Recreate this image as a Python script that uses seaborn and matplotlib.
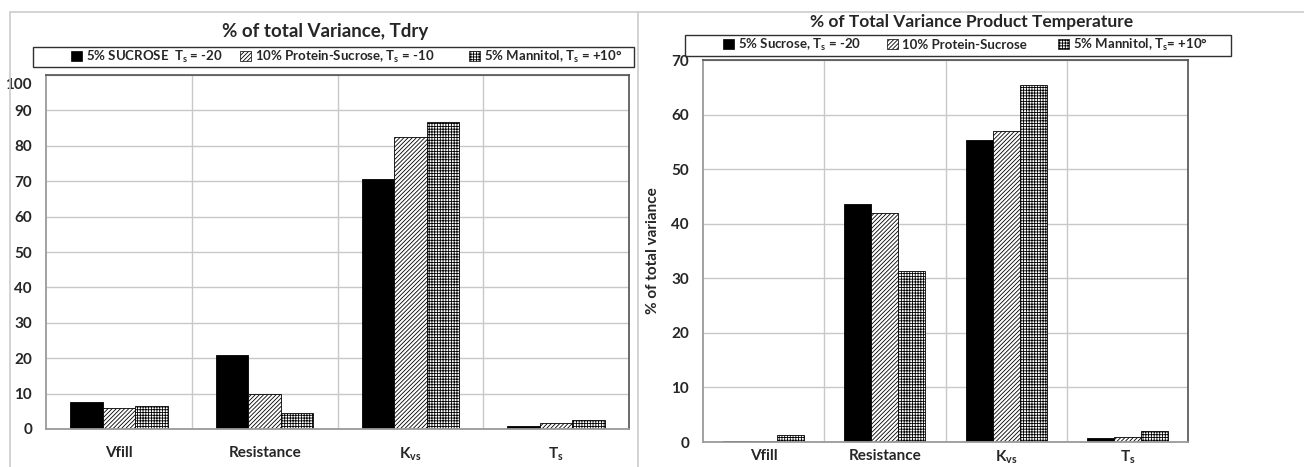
import numpy as np
import pandas as pd
import matplotlib
matplotlib.use('Agg')
import matplotlib.pyplot as plt
import matplotlib.patches as mpatches
from matplotlib.lines import Line2D
from matplotlib.transforms import ScaledTranslation
import seaborn as sns

# ── Data ──────────────────────────────────────────────────────────────────
categories = ['Vfill', 'Resistance', 'K$_{vs}$', 'T$_s$']

tdry_sucrose = [7.5, 21.0, 70.7, 0.8]
tdry_protein = [5.8, 9.8, 82.6, 1.8]
tdry_mannitol = [6.4, 4.6, 86.7, 2.6]
tdry_labels = ['5% SUCROSE  T$_s$ = -20', '10% Protein-Sucrose, T$_s$ = -10',
               '5% Mannitol, T$_s$ = +10°']

tp_sucrose = [0.1, 43.6, 55.3, 0.7]
tp_protein = [0.2, 41.9, 57.0, 1.0]
tp_mannitol = [1.3, 31.3, 65.4, 2.0]
tp_labels = ['5% Sucrose, T$_s$ = -20', '10% Protein-Sucrose',
             '5% Mannitol, T$_s$= +10°']

W, H = 1304, 467

sns.set_style('white')
plt.rcParams['font.family'] = ['Lato', 'DejaVu Sans']
plt.rcParams['font.weight'] = 'bold'
plt.rcParams['mathtext.fontset'] = 'custom'
plt.rcParams['mathtext.rm'] = 'Lato:bold'
plt.rcParams['mathtext.it'] = 'Lato:bold'
plt.rcParams['mathtext.bf'] = 'Lato:bold'
plt.rcParams['hatch.color'] = 'black'
plt.rcParams['hatch.linewidth'] = 0.6

faces = ['black', 'white', 'white']
hatches = ['', '////////', '++++++']


def long_df(series, labels):
    rows = []
    for lab, vals in zip(labels, series):
        for c, v in zip(categories, vals):
            rows.append({'cat': c, 'series': lab, 'value': v})
    return pd.DataFrame(rows)


def px_axes(fig, x0, y0, x1, y1):
    return fig.add_axes([x0 / W, 1 - y1 / H, (x1 - x0) / W, (y1 - y0) / H])


def draw_panel(ax, df, labels, ymax):
    sns.barplot(data=df, x='cat', y='value', hue='series', order=categories,
                hue_order=labels, width=0.67, gap=0, legend=False,
                palette=['black', 'white', 'white'], edgecolor='black',
                linewidth=0.6, saturation=1, ax=ax)
    for cont, fc, h in zip(ax.containers, faces, hatches):
        for bar in cont:
            bar.set_facecolor(fc)
            bar.set_hatch(h)
            bar.set_edgecolor('black')
    ax.set_xlim(-0.5, 3.5)
    ax.set_ylim(0, ymax)
    yt = np.arange(0, ymax + 1, 10)
    ax.set_yticks(yt, labels=[str(v) for v in yt])
    ax.set_xticks([0.5, 1.5, 2.5], minor=True)
    ax.grid(axis='y', which='major', color='#c8c8c8', lw=1.0)
    ax.grid(axis='x', which='minor', color='#c8c8c8', lw=1.0)
    ax.set_axisbelow(True)
    ax.set_xlabel('')
    ax.set_ylabel('')
    ax.tick_params(axis='x', which='major', length=0, pad=12, labelsize=11)
    ax.tick_params(axis='x', which='minor', length=5, color='#a0a0a0')
    ax.tick_params(axis='y', length=4, color='#a0a0a0', labelsize=11, pad=6)
    for lab in ax.get_xticklabels() + ax.get_yticklabels():
        lab.set_fontweight('bold')
    for s in ['left', 'bottom']:
        ax.spines[s].set_color('#9a9a9a')
        ax.spines[s].set_linewidth(1.3)
    for s in ['top', 'right']:
        ax.spines[s].set_color('#505050')
        ax.spines[s].set_linewidth(1.2)


def draw_legend(fig, labels, xs, yc, box):
    for lab, fc, h, x in zip(labels, faces, hatches, xs):
        hd = mpatches.Patch(facecolor=fc, hatch=h, edgecolor='black', lw=0.5)
        fig.legend([hd], [lab], loc='center left', bbox_to_anchor=(x / W, 1 - yc / H),
                   frameon=False, borderpad=0, borderaxespad=0, handlelength=0.8,
                   handleheight=0.8, handletextpad=0.35,
                   prop={'weight': 'bold', 'size': 9.5})
    x0, y0, x1, y1 = box
    fig.patches.append(mpatches.Rectangle((x0 / W, 1 - y1 / H), (x1 - x0) / W, (y1 - y0) / H,
                                          transform=fig.transFigure, fill=False,
                                          edgecolor='#303030', lw=1.0))


fig = plt.figure(figsize=(W / 100, H / 100), dpi=100)

# panel frames
fig.patches.append(mpatches.Rectangle((10 / W, -0.1), (638 - 10) / W, 1 - 12 / H + 0.1,
                                      transform=fig.transFigure, fill=False,
                                      edgecolor='#cccccc', lw=1.2))
fig.lines.append(Line2D([638 / W, 1.0], [1 - 12 / H, 1 - 12 / H], transform=fig.transFigure,
                        color='#cccccc', lw=1.2))

# ── Left: Tdry ────────────────────────────────────────────────────────────
ax1 = px_axes(fig, 46, 75, 629, 429)
draw_panel(ax1, long_df([tdry_sucrose, tdry_protein, tdry_mannitol], tdry_labels),
           tdry_labels, 100)
top_lab = ax1.get_yticklabels()[-1]
top_lab.set_transform(top_lab.get_transform() + ScaledTranslation(0, -6 / 72, fig.dpi_scale_trans))
fig.text(325 / W, 1 - 31 / H, '% of total Variance, Tdry', ha='center', va='center',
         fontsize=13.5, fontweight='bold')
draw_legend(fig, tdry_labels, [71, 240, 469], 57, (33, 47, 634, 67))

# ── Right: Product Temperature ────────────────────────────────────────────
ax2 = px_axes(fig, 703, 60, 1188, 442)
draw_panel(ax2, long_df([tp_sucrose, tp_protein, tp_mannitol], tp_labels), tp_labels, 70)
ax2.tick_params(axis='x', which='major', pad=5)
ax2.set_ylabel('% of total variance', fontsize=11, fontweight='bold', labelpad=8)
fig.text(972 / W, 1 - 22 / H, '% of Total Variance Product Temperature', ha='center',
         va='center', fontsize=12.5, fontweight='bold')
draw_legend(fig, tp_labels, [723, 887, 1058], 45, (685, 35, 1231, 56))

fig.savefig('out.png', dpi=100)
